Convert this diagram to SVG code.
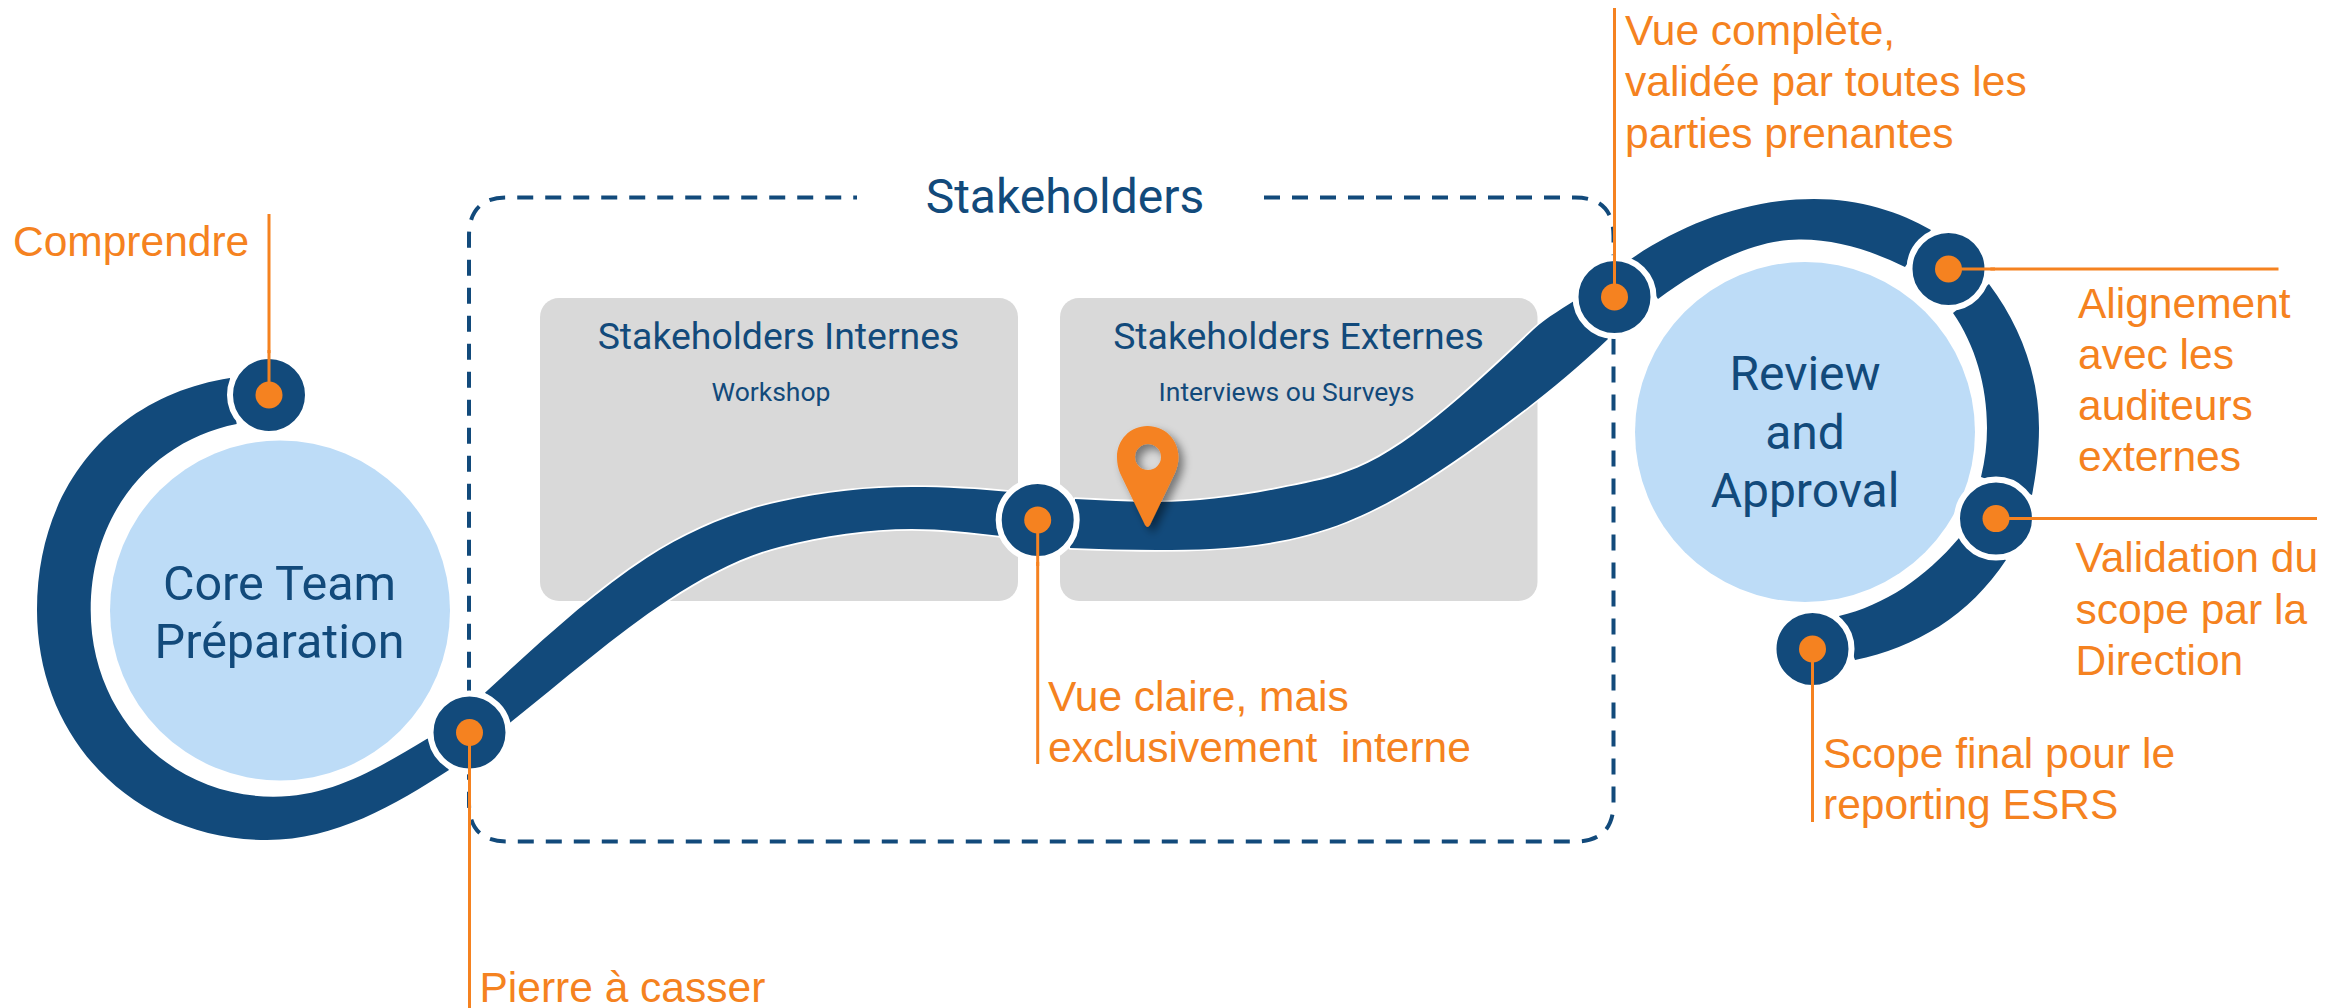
<svg xmlns="http://www.w3.org/2000/svg" width="2346" height="1008" viewBox="0 0 2346 1008">
<style>
.lab{font-family:"Liberation Sans",Arial,sans-serif;font-size:42.500px;fill:#f58220;white-space:pre}
.rb{font-family:Roboto,"Liberation Sans",sans-serif;fill:#124a7b;text-anchor:middle}
.big{font-size:48.500px}.rev{font-size:48px}.mid{font-size:37.400px}.sm{font-size:26.500px}
.rib{fill:#124a7b;stroke:#fff;stroke-width:3.500;stroke-linejoin:round;paint-order:stroke}
.lead{stroke:#f58220;stroke-width:3;fill:none}
.ring{fill:#124a7b;stroke:#fff;stroke-width:6}
.dot{fill:#f58220}
.panel{fill:#d9d9d9}
.hub{fill:#bddcf7}
</style>
<defs><filter id="sh" x="-40%" y="-20%" width="200%" height="150%"><feDropShadow dx="5" dy="5" stdDeviation="4" flood-color="#000" flood-opacity="0.45"/></filter></defs>
<g id="stakeholders-frame">
<path d="M1264,197.500H1575Q1613.500,197.500 1613.500,236V803Q1613.500,841.500 1575,841.500H507Q469,841.500 469,803V236Q469,197.500 507,197.500H857" fill="none" stroke="#124a7b" stroke-width="4" stroke-dasharray="16 12"/>
<text class="rb" x="1065" y="213" font-size="48">Stakeholders</text>
</g>
<g id="stakeholders-internes"><rect class="panel" x="540" y="298" width="478" height="303" rx="19"/>
<text class="rb mid" x="778.500" y="349">Stakeholders Internes</text><text class="rb sm" x="771" y="401">Workshop</text></g>
<g id="stakeholders-externes"><rect class="panel" x="1060" y="298" width="477.500" height="303" rx="19"/>
<text class="rb mid" x="1298.500" y="349">Stakeholders Externes</text><text class="rb sm" x="1286.500" y="401">Interviews ou Surveys</text></g>
<g id="core-team"><circle class="hub" cx="280" cy="610.500" r="170"/>
<text class="rb big" x="279.500" y="600">Core Team</text><text class="rb big" x="279.500" y="658">Préparation</text></g>
<g id="review-approval"><circle class="hub" cx="1805" cy="432" r="170"/>
<text class="rb rev" x="1805" y="390">Review</text><text class="rb rev" x="1805" y="449">and</text><text class="rb rev" x="1805" y="507">Approval</text></g>
<g id="connectors">
<path class="rib" d="M230,378C120,395 37,480 37,610C37,745 140,840 267,840C335,840 395,805 449,770L427.500,738.600C375,770 330,797 273,796.700C170,796 90.700,715 90.700,610C90.700,510 155,440 236.700,424Z"/>
<path class="rib" d="M485,692.700C539,643 592.700,593 646.700,558C691,529.400 736,511.400 780,501.700C824,492 868,487 912,487C945,487 980,489 1010,492L1001,536C971,532.400 942,529 912,529C868,529 824,535.700 780,546.700C743,556 705,575.600 668,600C615,635 563,680.600 510,722.700Z"/>
<path class="rib" d="M1075,499C1102,500 1130,502 1157,502C1198,502 1239,496.500 1280,488.300C1302,483.500 1325,480 1346.700,471.700C1405,452 1475,385 1533,330C1548,316 1564,308 1580,297L1608,339C1565,380 1523,412 1480,443C1436,475 1391,504 1346.700,521.700C1284,547 1220,550 1157,550C1128,550 1099,549 1070,548Z"/>
<path class="rib" d="M1631,259C1685,222 1750,199 1814,199C1860,199 1900,212 1931,230L1905,267C1870,250 1835,239 1799,239.500C1750,240 1700,268 1658,299Z"/>
<path class="rib" d="M1989,284C2020,325 2039,375 2039,428C2039,452 2036,475 2032,495L1981,477C1985,460 1987,445 1987,428C1987,385 1975,345 1953,313Z"/>
<path class="rib" d="M2006,560C1970,615 1915,648 1855,660L1839,616C1885,605 1925,578 1959,538Z"/>
<path class="lead" d="M269,214V395M469.500,732V1008M1037.700,520V764M1614.500,8V297M1948,269H2278.500M1996,518.600H2317M1812.500,649V822"/>
</g>
<g id="node-comprendre"><circle class="ring" cx="269" cy="395" r="39"/><path class="lead" d="M269,350V395"/><circle class="dot" cx="269" cy="395" r="13.500"/></g>
<g id="node-pierre"><circle class="ring" cx="469.500" cy="732.500" r="39"/><path class="lead" d="M469.500,732V778"/><circle class="dot" cx="469.500" cy="732.500" r="13.500"/></g>
<g id="node-vue-claire"><circle class="ring" cx="1037.700" cy="520" r="39"/><path class="lead" d="M1037.700,520V566"/><circle class="dot" cx="1037.700" cy="520" r="13.500"/></g>
<g id="node-vue-complete"><circle class="ring" cx="1614.500" cy="297" r="39"/><path class="lead" d="M1614.500,250V297"/><circle class="dot" cx="1614.500" cy="297" r="13.500"/></g>
<g id="node-alignement"><circle class="ring" cx="1948.500" cy="269" r="39"/><path class="lead" d="M1948,269H1995"/><circle class="dot" cx="1948.500" cy="269" r="13.500"/></g>
<g id="node-validation"><circle class="ring" cx="1996" cy="518.600" r="39"/><path class="lead" d="M1996,518.600H2043"/><circle class="dot" cx="1996" cy="518.600" r="13.500"/></g>
<g id="node-scope"><circle class="ring" cx="1812.500" cy="649" r="39"/><path class="lead" d="M1812.500,649V696"/><circle class="dot" cx="1812.500" cy="649" r="13.500"/></g>
<g id="pin"><path fill="#f58220" fill-rule="evenodd" filter="url(#sh)" d="M1147.500,426C1165,426 1178.500,440 1178.500,457C1178.500,463 1177,468 1175,473L1150,525Q1147.500,529 1145,525L1120,473C1118,468 1117,463 1117,457C1117,440 1130,426 1147.500,426ZM1148,444A13,13 0 1 0 1148.010,470A13,13 0 1 0 1148,444Z"/></g>
<g id="labels">
<text class="lab" x="13" y="256">Comprendre</text>
<text class="lab" x="479.500" y="1002">Pierre à casser</text>
<text class="lab" x="1048" y="710.500">Vue claire, mais</text>
<text class="lab" x="1048" y="762">exclusivement  interne</text>
<text class="lab" x="1625" y="44.500">Vue complète,</text>
<text class="lab" x="1625" y="96">validée par toutes les</text>
<text class="lab" x="1625" y="147.500">parties prenantes</text>
<text class="lab" x="2078" y="318">Alignement</text>
<text class="lab" x="2078" y="369">avec les</text>
<text class="lab" x="2078" y="420">auditeurs</text>
<text class="lab" x="2078" y="471">externes</text>
<text class="lab" x="2075.500" y="572">Validation du</text>
<text class="lab" x="2075.500" y="624">scope par la</text>
<text class="lab" x="2075.500" y="675">Direction</text>
<text class="lab" x="1823" y="768">Scope final pour le</text>
<text class="lab" x="1823" y="819">reporting ESRS</text>
</g>
</svg>
